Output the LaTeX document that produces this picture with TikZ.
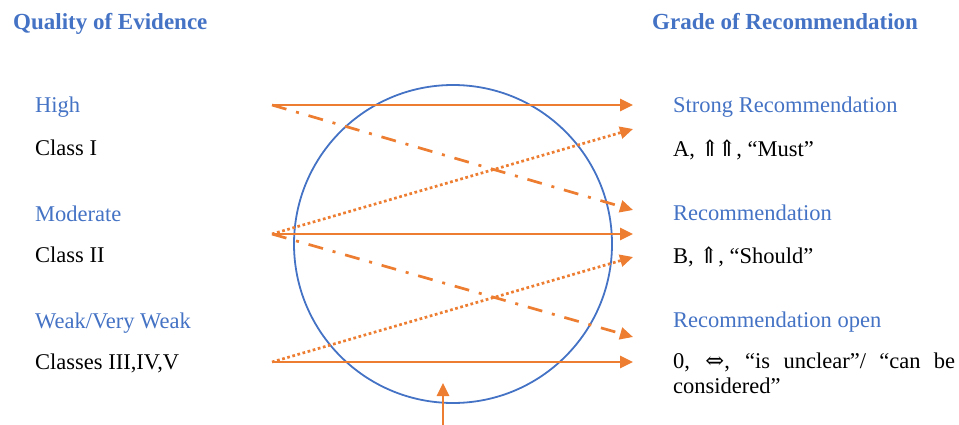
\documentclass[tikz,border=0pt]{standalone}
\usepackage{fontspec}
\setmainfont{Liberation Serif}
\newfontfamily\symfont{DejaVu Serif}
\usetikzlibrary{arrows.meta, positioning}
\definecolor{cOrange}{HTML}{ED7D31}
\definecolor{cBlue}{HTML}{4472C4}
\tikzset{
  head/.style={anchor=base west, inner sep=0pt,
    font=\fontsize{23}{26}\selectfont\bfseries, text=cBlue},
  level/.style={anchor=base west, inner sep=0pt,
    font=\fontsize{22.5}{25}\selectfont, text=cBlue},
  detail/.style={level, text=black},
  link/.style={-{Triangle[length=13pt, width=12pt]}, line width=2.7pt, cOrange, #1},
  link/.default=solid,
  dashdot/.style={dash pattern=on 15pt off 10pt on 3pt off 10pt},
  dots/.style={dash pattern=on 2.7pt off 2.6pt},
}

\begin{document}
\begin{tikzpicture}[x=1pt, y=-1pt]
  \useasboundingbox (0,0) rectangle (959,425);

  % Headers
  \node[head] (qual) at (13,30) {Quality of Evidence};
  \node[head] (grade) at (652,30) {Grade of Recommendation};

  % Left column
  \node[level]  (high) at (35,113) {High};
  \node[detail] (cls1) at (35,156) {Class I};
  \node[level]  (mod)  at (35,221) {Moderate};
  \node[detail] (cls2) at (35,262) {Class II};
  \node[level]  (weak) at (35,328) {Weak/Very Weak};
  \node[detail] (cls3) at (35,369) {Classes III,IV,V};

  % Right column
  \node[level]  (strong) at (673,113) {Strong Recommendation};
  \node[detail] (gA)     at (673,157) {A, {\symfont ⇑\kern-2pt⇑}, “Must”};
  \node[level]  (rec)    at (673,220) {Recommendation};
  \node[detail] (gB)     at (673,263) {B, {\symfont ⇑}, “Should”};
  \node[level]  (open)   at (673,327) {Recommendation open};
  \node[detail, text width=282pt, align=justify] (g0) at (673,368)
    {0, {\symfont ⇔}, “is unclear”/ “can be \mbox{considered”}};

  % Circle
  \node[circle, draw=cBlue, line width=1.8pt, minimum size=318pt, inner sep=0pt]
    (pool) at (453,244) {};

  % Arrow ends
  \coordinate (q1) at (272,105);
  \coordinate (q2) at (272,234);
  \coordinate (q3) at (272,362);
  \coordinate (s1)  at (633,105);
  \coordinate (s1b) at (633,129);
  \coordinate (s2t) at (633,210);
  \coordinate (s2)  at (633,234);
  \coordinate (s2b) at (633,257);
  \coordinate (s3t) at (633,337);
  \coordinate (s3)  at (633,362);
  \coordinate (src) at (443,425);
  \coordinate (srcTip) at (443,383);

  % Arrows
  \draw[link] (q1) -- (s1);
  \draw[link=dashdot] (q1) -- (s2t);
  \draw[link=dots] (q2) -- (s1b);
  \draw[link] (q2) -- (s2);
  \draw[link=dashdot] (q2) -- (s3t);
  \draw[link=dots] (q3) -- (s2b);
  \draw[link] (q3) -- (s3);
  \draw[link] (src) -- (srcTip);

\end{tikzpicture}
\end{document}
